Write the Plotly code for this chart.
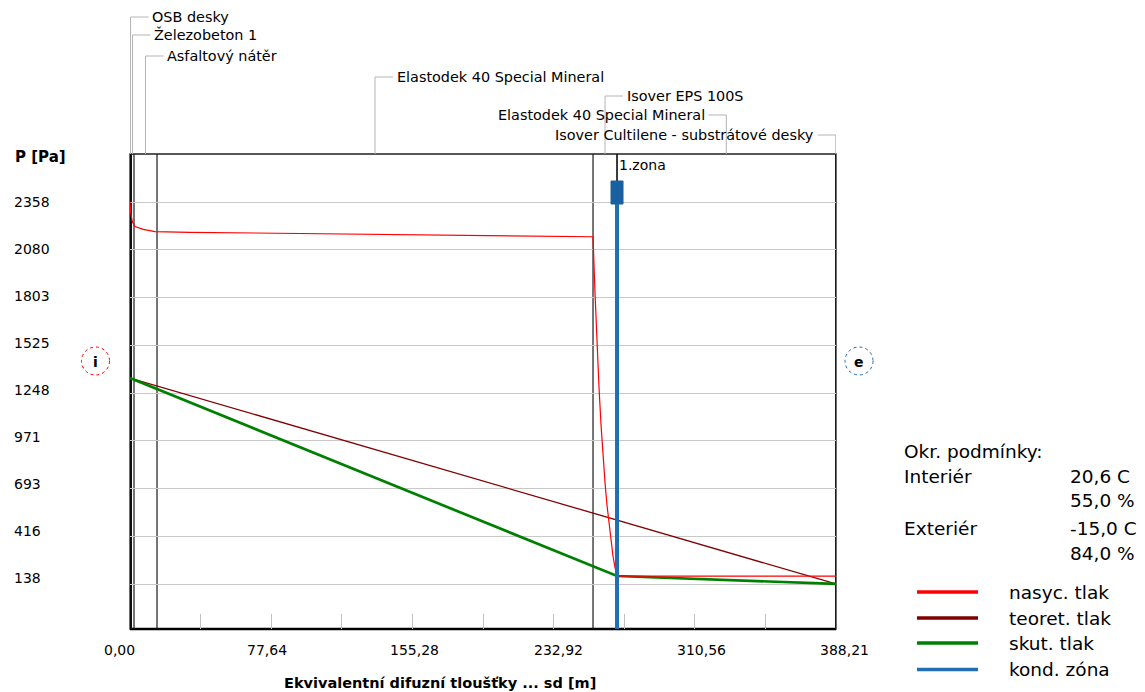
import plotly.graph_objects as go

# ---------------- data ----------------
layer_names = ["OSB desky", "Železobeton 1", "Asfaltový nátěr",
               "Elastodek 40 Special Mineral", "Isover EPS 100S",
               "Elastodek 40 Special Mineral", "Isover Cultilene - substrátové desky"]
layer_bounds = [0.0, 0.6, 2.2, 14.85, 254.6, 267.8, 388.0, 388.21]

sat_x = [0.0, 0.4, 1.3, 2.7, 7.3, 13.7, 33.0, 254.6, 255.7, 256.8, 257.9, 259.0,
         260.1, 261.2, 262.3, 263.4, 264.5, 265.6, 266.7, 267.8, 388.21]
sat_p = [2360, 2294, 2244, 2215, 2199, 2186, 2182, 2156, 1826, 1531, 1279, 1063,
         879, 726, 595, 485, 385, 300, 235, 185, 184]

theo_x = [0.0, 388.21]
theo_p = [1335, 139]

act_x = [0.0, 267.8, 388.21]
act_p = [1335, 185, 139]

zone_x = 267.8
zone_label = "1.zona"

x_ticks = [0.0, 77.642, 155.284, 232.926, 310.568, 388.21]
x_tick_labels = ["0,00", "77,64", "155,28", "232,92", "310,56", "388,21"]
y_ticks = [138.7, 416.1, 693.5, 970.9, 1248.3, 1525.7, 1803.1, 2080.5, 2357.9]
y_tick_labels = ["138", "416", "693", "971", "1248", "1525", "1803", "2080", "2358"]

cond_labels = ["Interiér", "", "Exteriér", ""]
cond_values = ["20,6 C", "55,0 %", "-15,0 C", "84,0 %"]
legend_names = ["nasyc. tlak", "teoret. tlak", "skut. tlak", "kond. zóna"]

# ---------------- layout helpers ----------------
# page body has an 8px margin: the figure is shrunk and offset accordingly
OFF = 8
W, H = 1145 - OFF, 692 - OFF
L, R, T, B = 130, 836, 154, 629          # plot area in window pixels
FONT = "DejaVu Sans"
RED, DRED, GREEN, BLUE = "#ff0000", "#800000", "#008000", "#1f6fb2"
GRAY = "#c0c0c0"
YMIN, YMAX = -122.7, 2636.8
XMAX = 388.21


def xp(p):
    return (p - L) / (R - L)


def yp(p):
    return (B - p) / (B - T)


fig = go.Figure()
fig.add_trace(go.Scatter(x=theo_x, y=theo_p, mode="lines", line=dict(color=DRED, width=1.3),
                         name=legend_names[1], showlegend=False, hoverinfo="skip"))
fig.add_trace(go.Scatter(x=act_x, y=act_p, mode="lines", line=dict(color=GREEN, width=2.7),
                         name=legend_names[2], showlegend=False, hoverinfo="skip"))
fig.add_trace(go.Scatter(x=sat_x, y=sat_p, mode="lines", line=dict(color=RED, width=1.2),
                         name=legend_names[0], showlegend=False, hoverinfo="skip"))

shapes = []
ann = []

# frame (drawn beneath the curves)
shapes.append(dict(type="rect", xref="paper", yref="paper", x0=0, x1=1, y0=0, y1=1,
                   line=dict(color="#202020", width=1.3), layer="between"))
shapes.append(dict(type="line", xref="x", yref="paper", x0=0, x1=0, y0=0, y1=1,
                   line=dict(color="black", width=4), layer="between"))
shapes.append(dict(type="line", xref="paper", yref="paper", x0=0, x1=1, y0=0, y1=0,
                   line=dict(color="black", width=2.5), layer="between"))

# layer boundaries
for b in layer_bounds[1:-1]:
    shapes.append(dict(type="line", xref="x", yref="paper", x0=b, x1=b, y0=0, y1=1,
                       line=dict(color="#1a1a1a", width=1.2), layer="between"))

# condensation zone
box_top, box_bot = yp(181), yp(204)
shapes.append(dict(type="line", xref="x", yref="paper", x0=zone_x, x1=zone_x, y0=0, y1=box_bot,
                   line=dict(color=BLUE, width=4)))
shapes.append(dict(type="line", xref="x", yref="paper", x0=zone_x, x1=zone_x, y0=box_top, y1=1,
                   line=dict(color="#000000", width=1)))
shapes.append(dict(type="rect", xref="x", xsizemode="pixel", xanchor=zone_x, x0=-6, x1=6,
                   yref="paper", y0=box_bot, y1=box_top, fillcolor="#1860a0",
                   line=dict(color="#1860a0", width=1)))
ann.append(dict(x=zone_x, xref="x", y=yp(165), yref="paper", text=zone_label, showarrow=False,
                xanchor="left", yanchor="middle", xshift=0, font=dict(family=FONT, size=14, color="black")))

# layer labels with leaders
label_y_px = [17, 35, 56, 77, 96, 115, 135]
for i, name in enumerate(layer_names):
    c = (layer_bounds[i] + layer_bounds[i + 1]) / 2
    y = yp(label_y_px[i])
    side = 1 if i < 5 else -1
    shapes.append(dict(type="line", xref="x", yref="paper", x0=c, x1=c, y0=1, y1=y,
                       line=dict(color="#b4b4b4", width=1)))
    shapes.append(dict(type="line", xref="x", xsizemode="pixel", xanchor=c, x0=0, x1=18 * side,
                       yref="paper", y0=y, y1=y, line=dict(color="#b4b4b4", width=1)))
    ann.append(dict(x=c, xref="x", y=y, yref="paper", text=name, showarrow=False,
                    xanchor="left" if side > 0 else "right", yanchor="middle", xshift=19.5 * side,
                    font=dict(family=FONT, size=14.4, color="black")))

# y tick labels (left aligned)
n = len(y_ticks)
for i, (v, t) in enumerate(zip(y_ticks, y_tick_labels)):
    j = n - 1 - i
    ann.append(dict(x=xp(11.7), xref="paper", y=v, yref="y", text=t, showarrow=False,
                    xanchor="left", yanchor="middle", yshift=0.3 + 0.67 * j,
                    font=dict(family=FONT, size=14, color="black")))

# x tick labels
for k, (v, t) in enumerate(zip(x_ticks, x_tick_labels)):
    ann.append(dict(x=v, xref="x", y=yp(650), yref="paper", text=t, showarrow=False,
                    xanchor="left", yanchor="middle", xshift=-28.3 + 2.1 * k,
                    font=dict(family=FONT, size=14, color="black")))

# axis titles
ann.append(dict(x=xp(12.7), xref="paper", y=yp(157), yref="paper", text="<b>P [Pa]</b>",
                showarrow=False, xanchor="left", yanchor="middle",
                font=dict(family=FONT, size=15, color="black")))
ann.append(dict(x=xp(440), xref="paper", y=yp(683), yref="paper",
                text="<b>Ekvivalentní difuzní tloušťky ... sd [m]</b>",
                showarrow=False, xanchor="center", yanchor="middle",
                font=dict(family=FONT, size=14.5, color="black")))

# i / e circles
for cx, col, txt in [(95.5, RED, "i"), (859, BLUE, "e")]:
    r = 14
    shapes.append(dict(type="circle", xref="paper", yref="paper",
                       x0=xp(cx - r), x1=xp(cx + r), y0=yp(361 + r), y1=yp(361 - r),
                       line=dict(color=col, width=1, dash="dot")))
    ann.append(dict(x=xp(cx), xref="paper", y=yp(362), yref="paper", text="<b>%s</b>" % txt,
                    showarrow=False, xanchor="center", yanchor="middle",
                    font=dict(family=FONT, size=14, color="black")))

# boundary conditions panel
RF = 18.5
ann.append(dict(x=xp(902), xref="paper", y=yp(451.7), yref="paper", text="Okr. podmínky:",
                showarrow=False, xanchor="left", yanchor="middle",
                font=dict(family=FONT, size=RF, color="black")))
rows = [476.7, 500.5, 528.3, 553.3]
for lab, val, ypx in zip(cond_labels, cond_values, rows):
    if lab:
        ann.append(dict(x=xp(902), xref="paper", y=yp(ypx), yref="paper", text=lab,
                        showarrow=False, xanchor="left", yanchor="middle",
                        font=dict(family=FONT, size=RF, color="black")))
    ann.append(dict(x=xp(1068), xref="paper", y=yp(ypx), yref="paper", text=val,
                    showarrow=False, xanchor="left", yanchor="middle",
                    font=dict(family=FONT, size=RF, color="black")))

# legend
leg_rows = [592, 618, 643, 669.5]
for name, col, ypx in zip(legend_names, [RED, DRED, GREEN, BLUE], leg_rows):
    shapes.append(dict(type="line", xref="paper", yref="paper", x0=xp(917), x1=xp(978),
                       y0=yp(ypx), y1=yp(ypx), line=dict(color=col, width=3.5)))
    ann.append(dict(x=xp(1007), xref="paper", y=yp(ypx), yref="paper", text=name,
                    showarrow=False, xanchor="left", yanchor="middle",
                    font=dict(family=FONT, size=RF, color="black")))

fig.update_layout(
    width=W, height=H, autosize=False,
    margin=dict(l=L - OFF, r=W - (R - OFF), t=T - OFF, b=H - (B - OFF), pad=0),
    paper_bgcolor="white", plot_bgcolor="white",
    showlegend=False,
    font=dict(family=FONT, size=14, color="black"),
    shapes=shapes, annotations=ann,
    xaxis=dict(range=[0, XMAX], showgrid=False, zeroline=False, showticklabels=False,
               tickmode="array", tickvals=[k * XMAX / 10 for k in range(1, 10)],
               ticks="inside", ticklen=15, tickcolor=GRAY, tickwidth=1, showline=False),
    yaxis=dict(range=[YMIN, YMAX], showgrid=True, gridcolor="#c8c8c8", gridwidth=1,
               zeroline=False, showticklabels=False, tickmode="array", tickvals=y_ticks,
               ticks="", showline=False),
)

fig.write_html("out.html")
